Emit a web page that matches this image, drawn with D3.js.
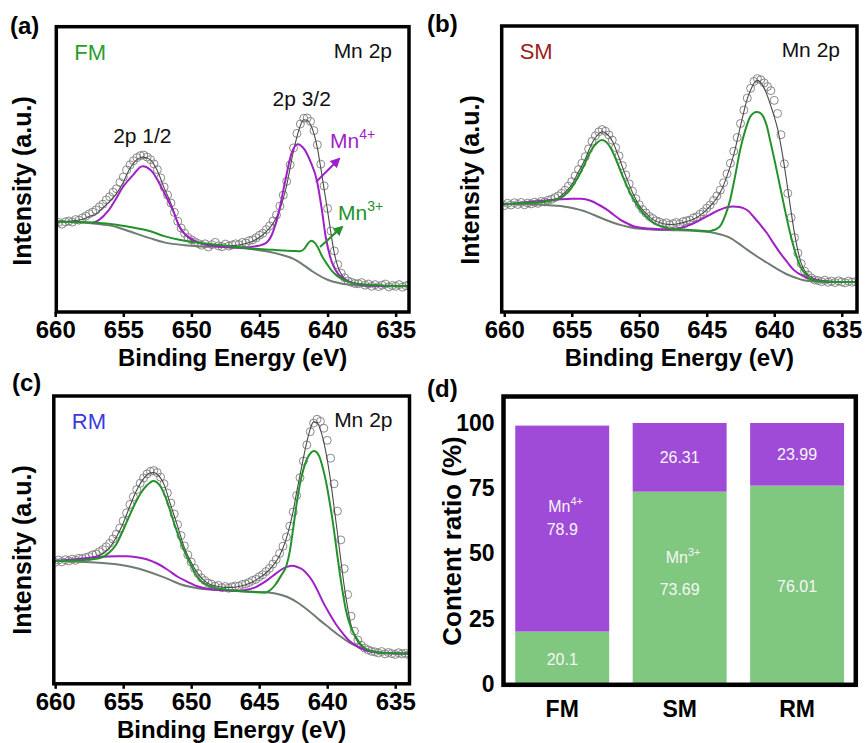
<!DOCTYPE html>
<html>
<head>
<meta charset="utf-8">
<script src="https://cdn.jsdelivr.net/npm/d3@7"></script>
<style>
  body { margin: 0; background: #fff; }
  svg { display: block; }
  text { font-family: "Liberation Sans", Arial, sans-serif; }
</style>
</head>
<body>
<svg id="fig" width="867" height="743"></svg>
<script>
// ---------------- values ----------------
// measured points are on a 0.25 eV grid starting at 660 eV
const dataEnergy = d3.range(0, 106).map(i => 660 - 0.25 * i);

const fmData = [31.0,31.4,30.8,31.6,31.9,31.5,32.4,32.2,33.0,33.6,34.4,35.0,35.8,36.9,37.8,39.3,40.4,42.0,43.2,45.4,
  47.3,49.8,51.6,53.0,54.1,54.8,55.0,54.3,53.4,51.9,49.9,47.0,43.8,41.0,38.2,34.9,31.8,29.4,27.6,26.1,
  25.3,24.6,24.0,23.4,23.9,22.8,23.6,24.4,23.2,22.9,23.8,23.1,23.5,23.9,23.6,24.4,24.2,25.0,25.3,26.0,
  26.9,27.6,28.9,30.2,31.9,34.0,37.1,41.0,45.8,51.6,57.5,62.6,65.9,67.9,68.0,66.8,63.6,58.6,51.8,44.2,
  36.3,28.4,21.4,16.6,13.6,12.0,10.9,10.4,10.0,9.9,10.3,9.4,9.8,9.0,9.6,8.9,9.4,9.8,8.8,9.3,
  9.0,9.6,8.7,9.2,9.5,8.9];
const smData = [37.2,38.0,37.4,38.2,37.6,38.3,37.5,38.1,37.8,38.4,38.0,38.7,38.5,39.1,39.4,40.0,40.6,41.5,42.6,44.0,
  45.6,47.6,49.8,52.0,54.3,57.0,59.7,61.6,63.0,63.8,63.2,61.9,60.1,57.5,54.6,51.2,47.9,44.8,42.2,39.6,
  37.5,35.8,34.6,33.4,32.7,31.9,31.5,30.9,31.2,30.5,30.9,31.3,30.8,31.6,31.9,32.1,32.9,33.3,34.2,35.0,
  36.3,37.4,39.0,40.6,42.6,45.2,48.3,52.0,56.2,61.0,65.9,70.6,74.8,78.2,80.6,81.6,81.2,80.1,78.8,77.4,
  74.0,69.4,62.0,51.8,41.5,33.0,26.0,20.6,16.9,14.3,12.9,11.9,11.2,11.0,10.6,11.1,10.4,10.8,10.3,10.9,
  10.5,10.2,10.8,10.4,10.6,10.3];
const rmData = [42.2,43.0,42.4,43.1,42.7,43.3,42.9,43.6,43.5,43.9,44.2,44.8,45.1,45.9,46.6,47.6,48.8,50.3,52.0,54.1,
  56.6,59.4,62.3,65.0,67.5,69.7,71.5,72.9,73.8,74.1,73.4,71.8,69.5,66.3,62.8,59.0,55.3,51.5,47.9,44.8,
  42.3,40.1,38.3,36.8,35.9,35.0,34.6,33.9,34.2,33.4,33.8,33.2,33.7,34.0,33.9,34.5,34.7,35.2,35.9,36.3,
  37.2,37.9,39.0,40.1,41.6,43.2,45.3,47.8,51.0,54.8,59.7,65.4,71.6,77.4,83.0,87.6,90.6,91.9,91.2,88.8,
  84.6,78.4,69.5,60.0,50.0,40.0,31.0,23.5,18.3,15.2,13.4,12.4,11.8,11.3,11.1,10.7,11.2,10.4,10.9,10.5,
  10.2,10.8,10.4,10.6,10.1,10.7];

// fitted curves as [binding energy (eV), intensity (a.u.)]
const fmEnvelope = [[660,31.5],[659,31.8],[658,32.5],[657.5,33.5],[657,34.3],[656.5,36.5],[656,38.8],[655.5,41.5],[655,45.5],
  [654.5,50.5],[654,53.4],[653.6,54.3],[653.25,54.0],[653,53.3],[652.5,49.5],[652,43.5],[651.5,38.0],[651,31.5],[650.5,27.5],
  [650,25.2],[649.5,24.3],[649,23.7],[648,23.3],[647,23.3],[646.5,23.5],[646,24.0],[645.5,24.8],[645,26.2],[644.5,28.2],
  [644,31.0],[643.5,36.0],[643,44.5],[642.5,56.5],[642,65.3],[641.75,67.4],[641.5,67.2],[641.25,65.6],[641,62.5],[640.75,57.5],
  [640.5,50.5],[640.25,43.0],[640,35.5],[639.75,27.5],[639.5,20.5],[639.25,16.0],[639,13.3],[638.75,11.8],[638.5,10.9],
  [638,10.1],[637.5,9.7],[636,9.3],[633.7,9.1]];
const fmBackground = [[660,31.7],[657,30.9],[655.5,29.8],[654.5,28.2],[653,25.8],[652,24.4],[650.5,23.4],[649,23.0],[647,22.6],
  [645.5,22.0],[644.5,21.3],[643.2,19.8],[642.5,18.6],[641.9,16.9],[641.1,14.2],[640,11.3],[639,10.0],[638,9.4],[637,9.1],[633.7,9.0]];
const fmMn3 = [[660,31.7],[657,31.3],[655.5,30.6],[654.5,29.8],[653,28.3],[652,26.6],[650.5,25.0],[649,24.0],[647,23.0],[645.5,22.2],
  [644,21.8],[643,21.5],[642.5,21.4],[642.0,21.3],[641.7,22.2],[641.45,24.0],[641.2,25.0],[640.95,24.3],[640.7,22.5],[640.4,19.5],
  [640.0,16.5],[639.7,14.5],[639.2,12.3],[638.7,11.0],[637.5,9.7],[636,9.3],[633.7,9.1]];
const fmMn4 = [[657.3,31.2],[656.8,32.2],[656.1,35.5],[655.6,39.2],[655,44.0],[654.3,47.9],[653.6,51.1],[652.9,49.3],[652.4,45.5],
  [651.85,40.4],[651.3,35.0],[650.9,30.0],[650.1,25.9],[649.4,24.2],[648.9,23.6],[648,23.0],[647,22.7],[646.2,22.6],[645.6,22.8],
  [644.6,24.0],[644.1,27.0],[643.6,34.6],[643.15,45.0],[642.65,55.5],[642.2,58.8],[641.7,57.0],[641.28,53.0],[640.78,46.0],
  [640.41,35.5],[640.16,27.0],[639.79,19.0],[639.16,13.0],[638.2,10.3],[637,9.3],[635.5,9.1]];

const smEnvelope = [[660.2,37.6],[659,37.9],[658,38.0],[657,38.4],[656.5,38.9],[656,39.9],[655.5,41.8],[655,44.5],[654.5,49.0],
  [654,53.5],[653.5,59.0],[653,62.3],[652.75,63.0],[652.5,62.6],[652,59.8],[651.5,54.0],[651,47.5],[650.5,41.8],[650,37.2],
  [649.5,34.5],[649,32.4],[648.5,31.3],[648,30.7],[647.5,30.6],[647,31.0],[646.5,31.6],[646,32.4],[645.5,33.8],[645,35.8],
  [644.5,38.3],[644,41.8],[643.5,47.5],[643,55.0],[642.5,65.0],[642,74.5],[641.75,77.6],[641.5,80.0],[641.25,81.0],[641,80.2],
  [640.75,78.3],[640.5,75.5],[640.25,72.0],[640,68.3],[639.75,64.0],[639.5,58.0],[639.25,51.0],[639,43.0],[638.75,35.0],
  [638.5,27.5],[638.25,21.5],[638,17.0],[637.75,14.5],[637.5,13.0],[637,11.6],[636.5,11.0],[636,10.7],[635,10.5],[633.8,10.5]];
const smBackground = [[660.2,37.7],[659.57,37.8],[657.5,37.6],[656.36,37.2],[655.6,36.9],[654.88,36.3],[654.1,35.3],[653.4,34.0],
  [652.65,32.5],[651.92,31.2],[651.2,30.2],[650.44,29.4],[649.7,29.0],[648.96,28.8],[647.5,28.6],[646.48,28.5],[645.5,28.2],
  [644.51,27.7],[643.9,27.0],[643.27,25.9],[642.65,24.0],[642.04,21.9],[641.3,19.5],[640.56,17.3],[639.8,15.1],[639.07,13.2],
  [638.3,11.8],[637.6,10.9],[636.8,10.6],[635.5,10.5],[633.8,10.5]];
const smMn3 = [[660.2,37.7],[659.57,37.8],[658.2,38.2],[656.85,38.7],[655.87,39.8],[655.5,41.0],[655.13,42.7],[654.65,46.2],
  [654.14,50.8],[653.75,54.8],[653.4,57.7],[653.1,59.3],[652.78,60.1],[652.47,59.5],[652.16,57.7],[651.8,54.2],[651.42,49.7],
  [651.05,45.5],[650.68,41.6],[650.3,38.5],[649.94,35.8],[649.45,33.2],[648.96,31.2],[648.46,30.1],[647.96,29.4],[647.2,29.0],
  [646.48,28.8],[645.6,28.5],[644.9,28.2],[644.6,28.5],[644.3,29.0],[644.01,30.0],[643.65,33.5],[643.27,39.2],[642.9,47.5],
  [642.53,56.6],[642.15,63.5],[641.79,68.2],[641.55,69.5],[641.3,69.9],[641.05,69.6],[640.8,68.2],[640.55,65.0],[640.31,60.1],
  [639.95,52.5],[639.57,43.9],[639.2,35.5],[638.83,27.7],[638.45,21.0],[638.09,16.1],[637.7,13.3],[637.34,11.5],[636.8,10.8],
  [636,10.6],[633.8,10.5]];
const smMn4 = [[660.2,37.7],[659.57,37.8],[657.6,38.7],[655.9,39.4],[655,39.6],[654.3,39.6],[653.6,38.9],[653,37.5],[652.4,35.8],
  [651.9,34.0],[651.42,32.3],[650.9,31.0],[650.44,30.0],[649.7,29.4],[649,29.1],[648,28.9],[647.2,29.2],[646.48,30.0],[645.75,31.5],
  [645,33.4],[644.5,34.7],[644,35.8],[643.5,36.6],[643.05,36.9],[642.6,36.7],[642.29,36.3],[641.9,35.2],[641.55,33.4],[641.05,30.6],
  [640.56,27.7],[640.05,24.0],[639.57,20.7],[639.05,17.5],[638.6,14.9],[638.1,13.2],[637.6,12.0],[637.1,11.3],[636.6,10.9],
  [635.5,10.5],[633.8,10.5]];

const rmEnvelope = [[660.2,42.7],[659,42.9],[658,43.3],[657.5,43.7],[657,44.3],[656.5,45.3],[656,47.3],[655.5,51.0],[655,55.8],
  [654.5,61.8],[654,67.3],[653.5,71.3],[653,73.3],[652.75,73.4],[652.5,72.8],[652,69.3],[651.5,62.0],[651,54.8],[650.5,47.3],
  [650,42.2],[649.5,38.2],[649,35.7],[648.5,34.3],[648,33.8],[647.5,33.5],[647,33.5],[646.5,33.8],[646,34.4],[645.5,35.4],
  [645,36.8],[644.5,38.5],[644,41.0],[643.5,44.5],[643,50.5],[642.5,60.0],[642.25,66.5],[642,72.5],[641.75,78.5],[641.5,84.0],
  [641.25,88.5],[641,91.0],[640.75,90.8],[640.5,88.3],[640.25,84.0],[640,78.0],[639.75,70.5],[639.5,61.5],[639.25,52.5],
  [639,43.0],[638.75,34.0],[638.5,26.5],[638.25,20.5],[638,16.8],[637.75,14.5],[637.5,13.0],[637,11.9],[636.5,11.2],[636,10.9],
  [635,10.6],[633.7,10.5]];
const rmBackground = [[660.2,42.7],[656.77,42.1],[655.5,41.5],[654.28,40.5],[653.3,39.2],[652.29,37.5],[651.5,36.0],[650.8,34.6],
  [650,33.6],[649.31,33.0],[648,32.6],[646.82,32.3],[645.5,32.0],[644.33,31.7],[643.5,31.0],[642.84,30.0],[642.1,28.0],
  [641.34,25.3],[640.6,22.3],[639.85,19.5],[639.1,16.7],[638.36,14.3],[637.6,12.6],[636.87,11.5],[636,10.9],[635,10.6],[633.7,10.5]];
const rmMn3 = [[660.2,42.7],[658,43.0],[656.77,43.6],[656.02,45.6],[655.5,48.5],[655.03,53.1],[654.5,58.8],[654.03,63.5],
  [653.6,67.0],[653.28,68.8],[652.79,70.5],[652.29,68.8],[651.9,65.0],[651.54,60.1],[651.2,55.0],[650.8,49.7],[650.4,45.0],
  [650.05,41.6],[649.7,38.3],[649.31,35.8],[648.8,34.3],[648.31,33.4],[647.5,32.8],[646.82,32.3],[645.5,31.9],[644.58,31.7],
  [644.2,32.5],[643.8,34.5],[643.4,37.5],[643.0,41.0],[642.75,46.0],[642.5,54.0],[642.25,62.5],[642.0,69.5],[641.75,74.5],
  [641.5,78.0],[641.2,80.3],[640.97,80.9],[640.6,79.2],[640.35,75.5],[640.1,70.5],[639.85,64.0],[639.6,56.6],[639.35,48.0],
  [639.1,39.2],[638.85,31.5],[638.61,25.3],[638.25,19.5],[637.87,16.1],[637.5,13.5],[637.12,12.0],[636.5,11.0],[635.5,10.6],
  [633.7,10.5]];
const rmMn4 = [[660.2,42.7],[658.5,43.3],[656.77,44.1],[655.5,44.3],[654.78,44.3],[654,44.0],[653.28,43.3],[652.5,41.8],
  [651.79,39.8],[651,37.2],[650.3,35.5],[649.5,33.8],[648.81,33.0],[647.5,32.5],[646.82,32.3],[646,32.6],[645.33,33.4],
  [644.8,34.8],[644.33,36.3],[643.8,38.2],[643.33,39.8],[642.9,40.7],[642.59,41.0],[642.2,40.6],[641.84,39.8],[641.45,38.0],
  [641.1,35.8],[640.7,32.3],[640.35,28.8],[639.85,24.5],[639.36,20.7],[638.85,17.5],[638.36,14.9],[637.85,13.2],[637.37,12.0],
  [636.37,10.9],[635.5,10.6],[633.7,10.5]];

const energyTicks = [660, 655, 650, 645, 640, 635];

// Mn valence fractions (%)
const samples = ["FM", "SM", "RM"];
const mn3Share = [20.1, 73.69, 76.01];
const mn4Share = [78.9, 26.31, 23.99];
const ratioTicks = [0, 25, 50, 75, 100];

// ---------------- styles ----------------
const C = {
  mn4: "#a01fc6",
  mn3: "#23922a",
  bg: "#6f7c70",
  env: "#4a4a4a",
  dots: "#7c7c7c",
  barMn4: "#a04bd8",
  barMn3: "#80c880"
};

const svg = d3.select("#fig");
const defs = svg.append("defs");
["mn4", "mn3"].forEach(k => {
  defs.append("marker")
    .attr("id", "arrow-" + k)
    .attr("viewBox", "0 0 10 10")
    .attr("refX", 8).attr("refY", 5)
    .attr("markerWidth", 10).attr("markerHeight", 10)
    .attr("markerUnits", "userSpaceOnUse")
    .attr("orient", "auto")
    .append("path").attr("d", "M0,0 L10,5 L0,10 z").attr("fill", C[k]);
});

// ---------------- spectra panels ----------------
const spectra = [
  { key: "a", letter: "(a)", letterPos: [10, 34], box: { x0: 56.3, x1: 409, y0: 26.7, y1: 312 },
    eDomain: [659.92, 634.02], data: fmData, env: fmEnvelope, bg: fmBackground, mn3: fmMn3, mn4: fmMn4,
    sample: "FM", sampleColor: "#2a9d2a", yTitle: [31, 181] },
  { key: "b", letter: "(b)", letterPos: [427, 32], box: { x0: 501.7, x1: 857, y0: 26, y1: 312 },
    eDomain: [660.19, 633.87], data: smData, env: smEnvelope, bg: smBackground, mn3: smMn3, mn4: smMn4,
    sample: "SM", sampleColor: "#9b1d1d", yTitle: [479, 180] },
  { key: "c", letter: "(c)", letterPos: [12, 391], box: { x0: 53.8, x1: 409.5, y0: 396, y1: 683.8 },
    eDomain: [660.1, 633.95], data: rmData, env: rmEnvelope, bg: rmBackground, mn3: rmMn3, mn4: rmMn4,
    sample: "RM", sampleColor: "#3a3ae0", yTitle: [31, 550] }
];

spectra.forEach(p => {
  const b = p.box;
  const g = svg.append("g");
  const x = d3.scaleLinear().domain(p.eDomain).range([b.x0, b.x1]);
  const y = d3.scaleLinear().domain([0, 100]).range([b.y1, b.y0]);
  p.x = x; p.y = y;

  defs.append("clipPath").attr("id", "clip-" + p.key)
    .append("rect").attr("x", b.x0).attr("y", b.y0).attr("width", b.x1 - b.x0).attr("height", b.y1 - b.y0);
  const plot = g.append("g").attr("clip-path", `url(#clip-${p.key})`);

  plot.selectAll("circle")
    .data(p.data.map((v, i) => [dataEnergy[i], v]))
    .join("circle")
    .attr("cx", d => x(d[0])).attr("cy", d => y(d[1])).attr("r", 4)
    .attr("fill", "none").attr("stroke", C.dots).attr("stroke-width", 0.9);

  const line = d3.line().x(d => x(d[0])).y(d => y(d[1])).curve(d3.curveMonotoneX);
  const curve = (pts, color, w) => plot.append("path").datum(pts)
    .attr("d", line).attr("fill", "none").attr("stroke", color).attr("stroke-width", w)
    .attr("stroke-linejoin", "round");
  curve(p.env, C.env, 1.1);
  curve(p.bg, C.bg, 2);
  curve(p.mn4, C.mn4, 2);
  curve(p.mn3, C.mn3, 2);

  // energy axis
  const ax = g.append("g").attr("transform", `translate(0,${b.y1})`)
    .call(d3.axisBottom(x).tickValues(energyTicks).tickSize(5).tickPadding(4).tickFormat(d3.format("d")));
  ax.select(".domain").remove();
  ax.selectAll(".tick line").attr("stroke", "#000").attr("stroke-width", 2.5);
  ax.selectAll(".tick text").attr("font-size", 24).attr("font-weight", "bold").attr("fill", "#000")
    .attr("font-family", "'Liberation Sans', Arial, sans-serif");

  // frame
  g.append("rect").attr("x", b.x0).attr("y", b.y0).attr("width", b.x1 - b.x0).attr("height", b.y1 - b.y0)
    .attr("fill", "none").attr("stroke", "#000").attr("stroke-width", 3.5);

  // titles
  g.append("text").attr("x", (b.x0 + b.x1) / 2).attr("y", b.y1 + 54).attr("text-anchor", "middle")
    .attr("font-size", 24).attr("font-weight", "bold").text("Binding Energy (eV)");
  g.append("text").attr("transform", `translate(${p.yTitle[0]},${p.yTitle[1]}) rotate(-90)`)
    .attr("text-anchor", "middle").attr("font-size", 25).attr("font-weight", "bold").text("Intensity (a.u.)");
  g.append("text").attr("x", p.letterPos[0]).attr("y", p.letterPos[1])
    .attr("font-size", 24).attr("font-weight", "bold").text(p.letter);
  g.append("text").attr("x", b.x0 + 18).attr("y", b.y0 + 33).attr("font-size", 22)
    .attr("fill", p.sampleColor).text(p.sample);
  g.append("text").attr("x", b.x1 - 17).attr("y", b.y0 + 31).attr("text-anchor", "end")
    .attr("font-size", 21).attr("fill", "#111").text("Mn 2p");
});

// peak annotations in panel (a)
(function annotate() {
  const p = spectra[0];
  const g = svg.append("g");
  g.append("text").attr("x", p.x(653.6)).attr("y", 143).attr("text-anchor", "middle")
    .attr("font-size", 21).attr("fill", "#111").text("2p 1/2");
  g.append("text").attr("x", p.x(641.9)).attr("y", 106).attr("text-anchor", "middle")
    .attr("font-size", 21).attr("fill", "#111").text("2p 3/2");

  const ion = (xPos, yPos, charge, color) => {
    const t = g.append("text").attr("x", xPos).attr("y", yPos).attr("font-size", 21).attr("fill", color);
    t.append("tspan").text("Mn");
    t.append("tspan").attr("dy", -9).attr("font-size", 14).text(charge);
  };
  ion(330, 148, "4+", C.mn4);
  ion(338, 220, "3+", C.mn3);

  g.append("line").attr("x1", 316).attr("y1", 182).attr("x2", 339).attr("y2", 159)
    .attr("stroke", C.mn4).attr("stroke-width", 2).attr("marker-end", "url(#arrow-mn4)");
  g.append("line").attr("x1", 320).attr("y1", 247).attr("x2", 342).attr("y2", 227)
    .attr("stroke", C.mn3).attr("stroke-width", 2).attr("marker-end", "url(#arrow-mn3)");
})();

// ---------------- (d) stacked bars ----------------
(function bars() {
  const box = { x0: 503.5, x1: 855.8, y0: 396.5, y1: 684.8 };
  const g = svg.append("g");
  const x = d3.scaleBand().domain(samples).range([box.x0, box.x1]).paddingInner(0.2).paddingOuter(0.1);
  const y = d3.scaleLinear().domain([0, 100]).range([684, 423]);

  const rows = samples.map((s, i) => ({ s, mn3: mn3Share[i], mn4: mn4Share[i] }));
  g.selectAll("rect.mn3").data(rows).join("rect").attr("class", "mn3")
    .attr("x", d => x(d.s)).attr("width", x.bandwidth())
    .attr("y", d => y(d.mn3)).attr("height", d => y(0) - y(d.mn3)).attr("fill", C.barMn3);
  g.selectAll("rect.mn4").data(rows).join("rect").attr("class", "mn4")
    .attr("x", d => x(d.s)).attr("width", x.bandwidth())
    .attr("y", d => y(d.mn3 + d.mn4)).attr("height", d => y(d.mn3) - y(d.mn3 + d.mn4)).attr("fill", C.barMn4);

  // value labels
  const cx = s => x(s) + x.bandwidth() / 2;
  const valueLabels = [
    { s: "FM", v: mn4Share[0], yPos: 535 }, { s: "FM", v: mn3Share[0], yPos: 665 },
    { s: "SM", v: mn4Share[1], yPos: 463 }, { s: "SM", v: mn3Share[1], yPos: 595 },
    { s: "RM", v: mn4Share[2], yPos: 460 }, { s: "RM", v: mn3Share[2], yPos: 592 }
  ];
  g.selectAll("text.val").data(valueLabels).join("text").attr("class", "val")
    .attr("x", d => cx(d.s)).attr("y", d => d.yPos).attr("text-anchor", "middle")
    .attr("font-size", 16).attr("fill", "#f6f6f6").text(d => d.v);

  const ion = (s, yPos, charge) => {
    const t = g.append("text").attr("x", cx(s) - 14).attr("y", yPos).attr("font-size", 16).attr("fill", "#f6f6f6");
    t.append("tspan").text("Mn");
    t.append("tspan").attr("dy", -7).attr("font-size", 11).text(charge);
  };
  ion("FM", 512, "4+");
  ion("SM", 563, "3+");

  // frame
  g.append("rect").attr("x", box.x0).attr("y", box.y0).attr("width", box.x1 - box.x0).attr("height", box.y1 - box.y0)
    .attr("fill", "none").attr("stroke", "#000").attr("stroke-width", 4.5);

  // axes
  const ay = g.append("g").attr("transform", `translate(${box.x0 - 2},0)`)
    .call(d3.axisLeft(y).tickValues(ratioTicks).tickSize(0).tickPadding(7));
  ay.select(".domain").remove();
  ay.selectAll(".tick text").attr("font-size", 23).attr("font-weight", "bold").attr("fill", "#000")
    .attr("font-family", "'Liberation Sans', Arial, sans-serif");

  const axb = g.append("g").attr("transform", `translate(0,${box.y1})`)
    .call(d3.axisBottom(x).tickSize(0).tickPadding(16));
  axb.select(".domain").remove();
  axb.selectAll(".tick text").attr("font-size", 23).attr("font-weight", "bold").attr("fill", "#000")
    .attr("font-family", "'Liberation Sans', Arial, sans-serif");

  g.append("text").attr("transform", "translate(461,541) rotate(-90)").attr("text-anchor", "middle")
    .attr("font-size", 26).attr("font-weight", "bold").text("Content ratio (%)");
  g.append("text").attr("x", 427).attr("y", 397).attr("font-size", 24).attr("font-weight", "bold").text("(d)");
})();
</script>
</body>
</html>
